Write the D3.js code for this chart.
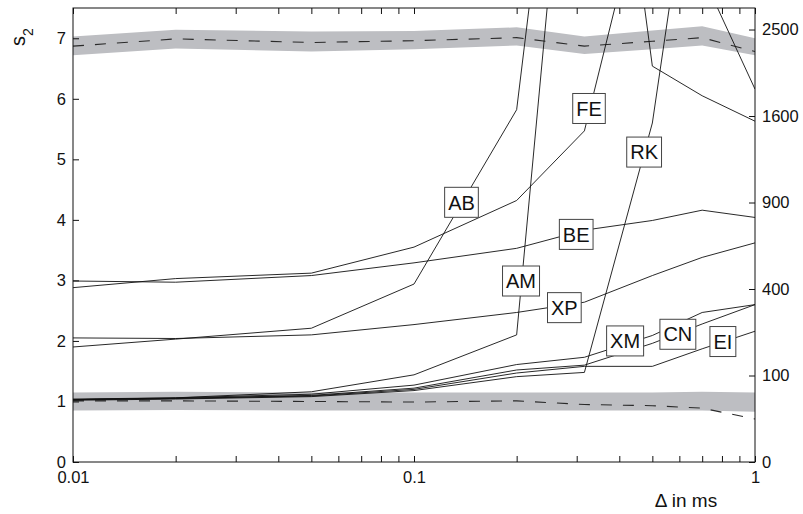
<!DOCTYPE html>
<html>
<head>
<meta charset="utf-8">
<script src="https://cdn.jsdelivr.net/npm/d3@7"></script>
<style>
  html, body { margin: 0; padding: 0; background: #fff; }
  text { font-family: "Liberation Sans", Arial, Helvetica, sans-serif; fill: #111; }
</style>
</head>
<body>
<svg id="chart" width="803" height="514"></svg>
<script>
// Step sizes Δ (ms) at which each method was evaluated
const deltas = [0.01, 0.02, 0.05, 0.1, 0.2, 0.316, 0.5, 0.7, 1];

// s2 for each integration method
const seriesNames = ["AB", "AM", "FE", "RK", "BE", "XP", "XM", "CN", "EI"];
const AB = [1.90, 2.03, 2.21, 2.94, 5.82, 15.0, 6.54, 6.05, 5.63];
const AM = [1.03, 1.06, 1.16, 1.44, 2.10, 14.1, 16.0, 17.0, 18.0];
const FE = [2.88, 3.03, 3.12, 3.55, 4.32, 5.47, 10.0, 8.05, 6.16];
const RK = [1.02, 1.04, 1.08, 1.18, 1.41, 1.48, 5.60, 11.2, 14.0];
const BE = [2.99, 2.97, 3.08, 3.29, 3.53, 3.83, 3.99, 4.16, 4.04];
const XP = [2.05, 2.04, 2.10, 2.27, 2.47, 2.64, 3.08, 3.38, 3.62];
const XM = [1.03, 1.05, 1.10, 1.22, 1.52, 1.60, 1.96, 2.28, 2.60];
const CN = [1.04, 1.06, 1.12, 1.27, 1.61, 1.73, 2.09, 2.47, 2.60];
const EI = [1.03, 1.05, 1.09, 1.20, 1.47, 1.58, 1.58, 1.87, 2.16];

// Reference ranges (grey bands) and their central dashed curves
const upperBandHi = [7.03, 7.14, 7.11, 7.12, 7.18, 7.03, 7.13, 7.20, 7.00];
const upperBandLo = [6.72, 6.83, 6.78, 6.82, 6.88, 6.74, 6.82, 6.88, 6.72];
const upperDash   = [6.87, 6.99, 6.93, 6.96, 7.01, 6.87, 6.95, 7.01, 6.78];
const lowerBandHi = [1.15, 1.16, 1.15, 1.15, 1.15, 1.15, 1.15, 1.16, 1.15];
const lowerBandLo = [0.85, 0.86, 0.85, 0.85, 0.85, 0.85, 0.85, 0.85, 0.83];
const lowerDash   = [1.01, 1.01, 1.00, 0.99, 1.01, 0.95, 0.93, 0.89, 0.71];

// Method labels: name, Δ and s2 of the box centre
const labelNames  = ["AB", "FE", "RK", "BE", "AM", "XP", "XM", "CN", "EI"];
const labelDeltas = [0.1378, 0.326, 0.473, 0.299, 0.206, 0.276, 0.416, 0.594, 0.805];
const labelS2     = [4.29, 5.84, 5.12, 3.76, 2.99, 2.55, 2.00, 2.11, 1.99];

// Axis ticks
const leftTicks = [0, 1, 2, 3, 4, 5, 6, 7];
const rightTicks = [0, 100, 400, 900, 1600, 2500];
const xLabelTicks = [0.01, 0.1, 1];

const W = 803, H = 514;
const margin = { left: 73, right: 48, top: 8, bottom: 52 };
const svg = d3.select("#chart");

const x = d3.scaleLog().domain([0.01, 1]).range([margin.left, W - margin.right]);
const y = d3.scaleLinear().domain([0, 7.5]).range([H - margin.bottom, margin.top]);
const yRight = d3.scaleSqrt().domain([0, 2755]).range([H - margin.bottom, margin.top]);

const xMinor = [];
[0.01, 0.1].forEach(dec => { for (let k = 1; k <= 9; k++) xMinor.push(dec * k); });
xMinor.push(1);

svg.append("defs").append("clipPath").attr("id", "plotClip")
  .append("rect")
  .attr("x", margin.left).attr("y", margin.top)
  .attr("width", W - margin.left - margin.right)
  .attr("height", H - margin.top - margin.bottom);

const plot = svg.append("g").attr("clip-path", "url(#plotClip)");

// grey reference bands
function band(hi, lo) {
  const pts = deltas.map((d, i) => ({ d, hi: hi[i], lo: lo[i] }));
  plot.append("path")
    .datum(pts)
    .attr("fill", "#bdbec2")
    .attr("stroke", "none")
    .attr("d", d3.area().x(p => x(p.d)).y0(p => y(p.lo)).y1(p => y(p.hi)));
}
band(upperBandHi, upperBandLo);
band(lowerBandHi, lowerBandLo);

const line = d3.line().x(p => x(p.d)).y(p => y(p.v));
const toPts = arr => deltas.map((d, i) => ({ d, v: arr[i] }));

[upperDash, lowerDash].forEach(arr => {
  plot.append("path")
    .datum(toPts(arr))
    .attr("fill", "none")
    .attr("stroke", "#2a2a2a")
    .attr("stroke-width", 1.1)
    .attr("stroke-dasharray", "11,11")
    .attr("d", line);
});

const seriesData = { AB, AM, FE, RK, BE, XP, XM, CN, EI };
seriesNames.forEach(name => {
  plot.append("path")
    .datum(toPts(seriesData[name]))
    .attr("class", "series")
    .attr("fill", "none")
    .attr("stroke", "#111")
    .attr("stroke-width", 0.9)
    .attr("stroke-linejoin", "miter")
    .attr("d", line);
});

// axes with inward ticks
const axisStyle = g => {
  g.select(".domain").remove();
  g.selectAll(".tick line").attr("stroke", "#111").attr("stroke-width", 1);
  g.selectAll(".tick text").style("font-size", "16.5px")
    .style("font-family", '"Liberation Sans", Arial, sans-serif').attr("fill", "#111");
};

svg.append("g")
  .attr("transform", `translate(0,${H - margin.bottom})`)
  .call(d3.axisBottom(x).tickValues(xMinor).tickSize(-6).tickPadding(9.5)
    .tickFormat(d => xLabelTicks.some(t => Math.abs(t - d) < 1e-9) ? d3.format("~g")(d) : ""))
  .call(axisStyle);

svg.append("g")
  .attr("transform", `translate(0,${margin.top})`)
  .call(d3.axisTop(x).tickValues(xMinor).tickSize(-6).tickFormat(""))
  .call(axisStyle);

svg.append("g")
  .attr("transform", `translate(${margin.left},0)`)
  .call(d3.axisLeft(y).tickValues(leftTicks).tickSize(-6).tickPadding(7).tickFormat(d3.format("d")))
  .call(axisStyle);

svg.append("g")
  .attr("transform", `translate(${W - margin.right},0)`)
  .call(d3.axisRight(yRight).tickValues(rightTicks).tickSize(-6).tickPadding(7).tickFormat(d3.format("d")))
  .call(axisStyle);

// frame
svg.append("rect")
  .attr("x", margin.left).attr("y", margin.top)
  .attr("width", W - margin.left - margin.right)
  .attr("height", H - margin.top - margin.bottom)
  .attr("fill", "none").attr("stroke", "#111").attr("stroke-width", 1);

// method labels in boxes
labelNames.forEach((name, i) => {
  const cx = x(labelDeltas[i]), cy = y(labelS2[i]);
  const g = svg.append("g");
  const rect = g.append("rect");
  const t = g.append("text")
    .attr("x", cx).attr("y", cy + 7.2)
    .attr("text-anchor", "middle")
    .style("font-size", "20px")
    .text(name);
  const w = t.node().getComputedTextLength() + 7;
  rect.attr("x", cx - w / 2).attr("y", cy - 15)
    .attr("width", w).attr("height", 30)
    .attr("fill", "#fff").attr("stroke", "#444").attr("stroke-width", 1);
});

// axis titles
svg.append("text")
  .attr("x", 686).attr("y", 507)
  .attr("text-anchor", "middle")
  .style("font-size", "19px")
  .text("Δ in ms");

const yt = svg.append("text")
  .attr("transform", "translate(25,37) rotate(-90)")
  .attr("text-anchor", "middle")
  .style("font-size", "20px");
yt.append("tspan").text("s");
yt.append("tspan").attr("baseline-shift", "sub").style("font-size", "14px").text("2");
</script>
</body>
</html>
